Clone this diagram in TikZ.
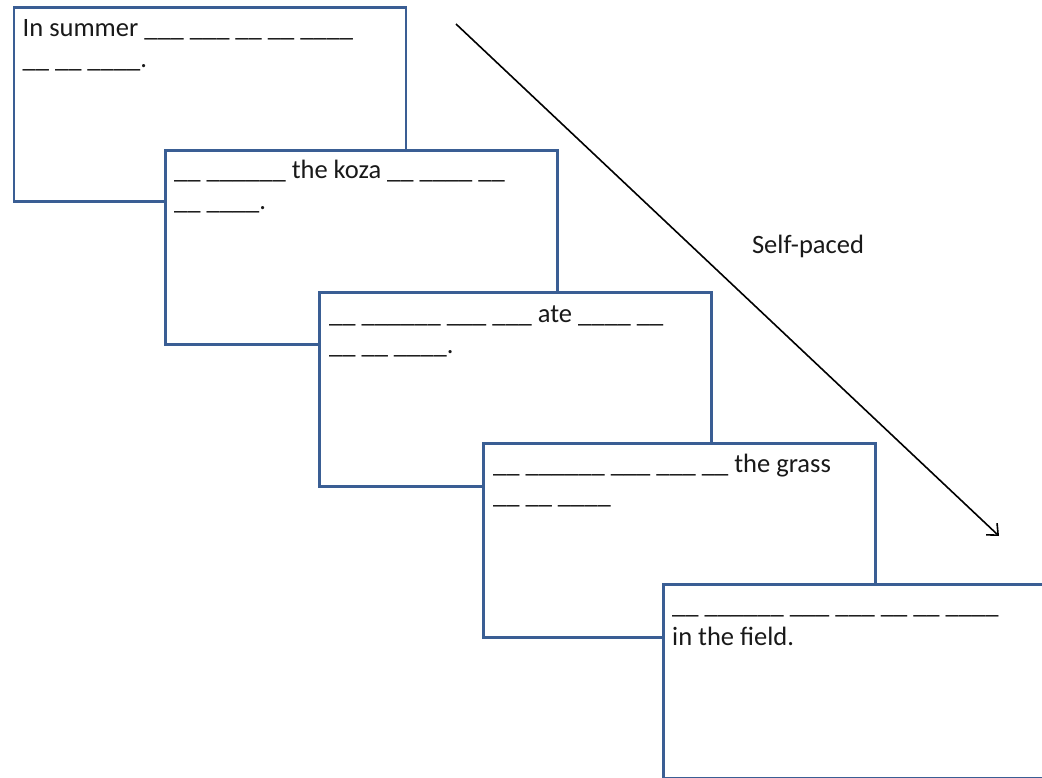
\documentclass[tikz,border=0pt]{standalone}
\usepackage{fontspec}
\setmainfont{Carlito}
\usetikzlibrary{arrows.meta}
\definecolor{boxblue}{RGB}{58,94,148}
\tikzset{
  card/.style={draw=boxblue, line width=2.8pt, fill=white, rectangle, anchor=north west,
    minimum width=392pt, minimum height=194pt, inner sep=0pt},
  txt/.style={anchor=base west, inner sep=0pt, font=\fontsize{26.5}{32}\selectfont, text=black!90}
}
\begin{document}
\begin{tikzpicture}[x=1pt,y=-1pt]
\path[use as bounding box, clip] (0,0) rectangle (1042,778);
\fill[white] (0,0) rectangle (1042,778);
\coordinate (s) at (456,24);
\coordinate (e) at (999,536);
\draw[line width=1.6pt, -{Straight Barb[length=9pt,width=16pt,line width=1.6pt]}] (s) -- (e);
\node[anchor=base, inner sep=0pt, font=\fontsize{26.5}{32}\selectfont, text=black!90] (lab) at (808,254) {Self-paced};

\node[card] (b1) at (12.5,6) {};
\node[txt] (t1a) at (22.5,37) {In summer \_\_\_ \_\_\_ \_\_ \_\_ \_\_\_\_};
\node[txt] (t1b) at (22.5,68) {\_\_ \_\_ \_\_\_\_.};

\node[card] (b2) at (164,149) {};
\node[txt] (t2a) at (174,179) {\_\_ \_\_\_\_\_\_ the koza \_\_ \_\_\_\_ \_\_};
\node[txt] (t2b) at (174,210) {\_\_ \_\_\_\_.};

\node[card] (b3) at (318,291) {};
\node[txt] (t3a) at (329,322) {\_\_ \_\_\_\_\_\_ \_\_\_ \_\_\_ ate \_\_\_\_ \_\_};
\node[txt] (t3b) at (329,353) {\_\_ \_\_ \_\_\_\_.};

\node[card] (b4) at (482,442) {};
\node[txt] (t4a) at (493,472) {\_\_ \_\_\_\_\_\_ \_\_\_ \_\_\_ \_\_ the grass};
\node[txt] (t4b) at (493,503) {\_\_ \_\_ \_\_\_\_};

\node[card] (b5) at (662,583) {};
\node[txt] (t5a) at (672,613) {\_\_ \_\_\_\_\_\_ \_\_\_ \_\_\_ \_\_ \_\_ \_\_\_\_};
\node[txt] (t5b) at (672,645) {in the field.};
\end{tikzpicture}
\end{document}
